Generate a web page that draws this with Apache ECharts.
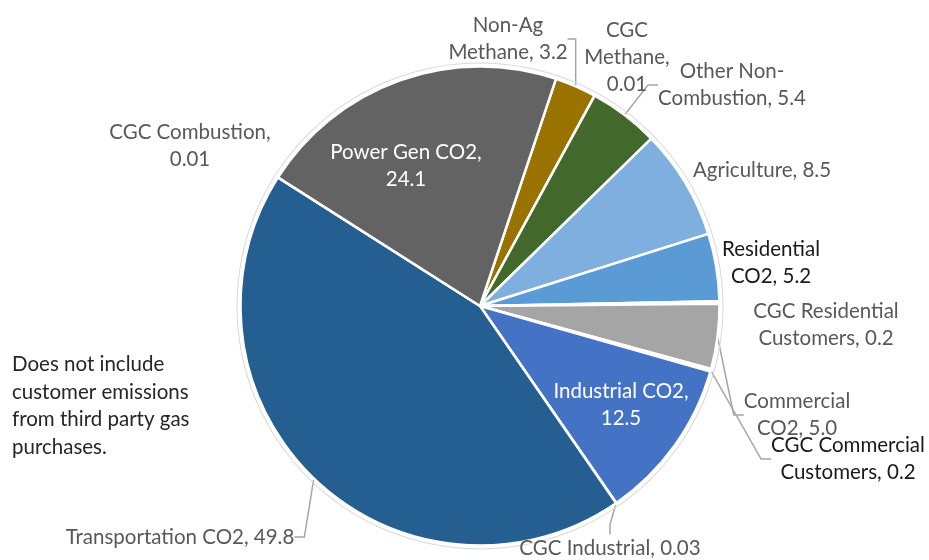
<!DOCTYPE html>
<html><head><meta charset="utf-8">
<script src="https://cdn.jsdelivr.net/npm/echarts@6/dist/echarts.min.js"></script>
<style>html,body{margin:0;padding:0;background:#fff}#c{width:929px;height:560px}</style>
</head><body><div id="c"></div>
<script>
// ---- data ----
const categories = ['Non-Ag\nMethane','CGC\nMethane','Other Non-\nCombustion','Agriculture','Residential\nCO2','CGC Residential\nCustomers','Commercial\nCO2','CGC Commercial\nCustomers','Industrial CO2','CGC Industrial','Transportation CO2','CGC Combustion','Power Gen CO2'];
const values = [3.2, 0.01, 5.4, 8.5, 5.2, 0.2, 5.0, 0.2, 12.5, 0.03, 49.8, 0.01, 24.1];
const separators = [', ', ',\n', ', ', ', ', ', ', ', ', ', ', ', ', ',\n', ', ', ', ', ',\n', ',\n'];
const noteText = 'Does not include\ncustomer emissions\nfrom third party gas\npurchases.';

// ---- styles ----
const colors = ['#9A7200','#8A8A8A','#43682B','#7EAFDE','#5B9BD5','#A5A5A5','#A5A5A5','#A5A5A5','#4472C4','#4472C4','#255E91','#636363','#636363'];
const labelColors = ['#595959','#595959','#595959','#595959','#1A1A1A','#595959','#595959','#1A1A1A','#FFFFFF','#595959','#595959','#595959','#FFFFFF'];
const showLine = [true,false,true,false,false,false,true,true,false,true,true,false,false];
const labelPos = [[508,39],[627,57],[732,85],[762,170],[771,263],[826,325],[797,415],[848,459],[621,405],[610,548],[180,537],[190,146],[406,166]];

const fmt = v => v >= 0.1 ? v.toFixed(1) : v.toFixed(2);
const FONT = 'Lato';
const FS = 20.5;
const total = values.reduce((a, b) => a + b, 0);

const chart = echarts.init(document.getElementById('c'));
chart.setOption({
  animation: false,
  title: {
    text: noteText, left: 12, top: 351, padding: 0,
    textStyle: {fontFamily: FONT, fontSize: FS, fontWeight: 'normal', color: '#262626', lineHeight: 27.5}
  },
  series: [{
    // faint outline ring around the pie
    type: 'pie',
    silent: true,
    center: [480, 306],
    radius: [242.5, 243.5],
    label: {show: false},
    labelLine: {show: false},
    itemStyle: {color: '#D9D9D9'},
    data: [{name: 'outline', value: total}]
  }, {
    type: 'pie',
    center: [480, 306],
    radius: [0, 239.5],
    startAngle: 71.5,
    clockwise: true,
    avoidLabelOverlap: false,
    itemStyle: {borderColor: '#fff', borderWidth: 2.5},
    label: {show: true, position: 'outside', fontFamily: FONT, fontSize: FS, lineHeight: 27, align: 'center'},
    labelLine: {show: true, length: 10, length2: 10, lineStyle: {color: '#A6A6A6', width: 1.5}},
    labelLayout: function (p) {
      const pos = labelPos[p.dataIndex];
      return {x: pos[0], y: pos[1], align: 'center', verticalAlign: 'middle'};
    },
    data: categories.map((c, i) => ({
      name: c,
      value: values[i],
      itemStyle: {color: colors[i]},
      label: {color: labelColors[i], formatter: c + separators[i] + fmt(values[i])},
      labelLine: {show: showLine[i]}
    }))
  }]
});
</script></body></html>
